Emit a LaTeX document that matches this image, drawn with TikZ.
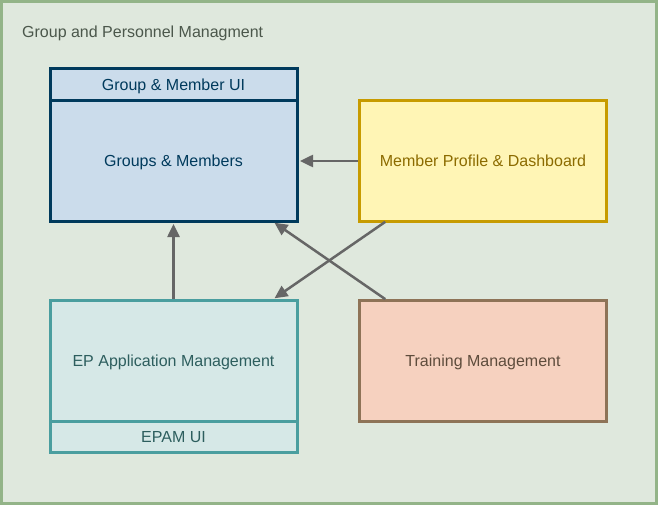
\documentclass[tikz,border=0pt]{standalone}
\usepackage{fontspec}
\setmainfont{Liberation Sans}
\usetikzlibrary{arrows.meta,positioning}
\definecolor{FrameGreen}{HTML}{93B488}
\definecolor{FrameFill}{HTML}{DFE8DD}
\definecolor{TitleGray}{HTML}{4B574B}
\definecolor{GrpBlue}{HTML}{003A5C}
\definecolor{GrpFill}{HTML}{CBDCEB}
\definecolor{MpdGold}{HTML}{C79B00}
\definecolor{MpdFill}{HTML}{FFF5B5}
\definecolor{MpdText}{HTML}{8C6B00}
\definecolor{EpTeal}{HTML}{4A9E9F}
\definecolor{EpFill}{HTML}{D6E8E7}
\definecolor{EpText}{HTML}{2D5E5E}
\definecolor{TrBrown}{HTML}{8E7357}
\definecolor{TrFill}{HTML}{F6D1BF}
\definecolor{TrText}{HTML}{5E4C3C}
\definecolor{ArrowGray}{HTML}{666666}

\tikzset{
	modbox/.style={draw, line width=3pt, rectangle, minimum width=247pt, inner sep=0pt, outer sep=0pt, text height=11.5pt, text depth=0pt, font=\fontsize{16}{19}\selectfont},
	link/.style={draw=ArrowGray, line width=2.5pt, -{Triangle[length=13pt,width=12pt]}}
}

\begin{document}
\begin{tikzpicture}[x=1pt, y=-1pt]
	\useasboundingbox (0,0) rectangle (658,505);
	% outer frame
	\draw[FrameGreen, fill=FrameFill, line width=3pt] (1.5,1.5) rectangle (656.5,503.5);
	\node[anchor=base west, inner sep=0pt, text=TitleGray, font=\fontsize{16}{19}\selectfont] (title) at (22,37.5) {Group and Personnel Managment};
	
	% groups & members with UI header
	\node[modbox, draw=GrpBlue, fill=GrpFill, text=GrpBlue, minimum height=120pt] (grp) at (173.5,161) {Groups \& Members};
	\node[modbox, draw=GrpBlue, fill=GrpFill, text=GrpBlue, minimum height=32pt, above=0pt of grp] (grpui) {Group \& Member UI};
	
	% profile & dashboard
	\node[modbox, draw=MpdGold, fill=MpdFill, text=MpdText, minimum height=120pt] (mpd) at (483,161) {Member Profile \& Dashboard};
	
	% EP application with UI footer
	\node[modbox, draw=EpTeal, fill=EpFill, text=EpText, minimum height=121pt] (epam) at (173.5,360.5) {EP Application Management};
	\node[modbox, draw=EpTeal, fill=EpFill, text=EpText, minimum height=31pt, below=0pt of epam] (epamui) {EPAM UI};
	
	% training
	\node[modbox, draw=TrBrown, fill=TrFill, text=TrText, minimum height=121pt] (train) at (483,360.5) {Training Management};
	
	% dependencies
	\draw[link, shorten <=1.5pt, shorten >=3pt] (mpd.west) -- (grp.east);
	\draw[link, shorten <=1.5pt, shorten >=3pt] (epam.north) -- (grp.south);
	\draw[link, shorten <=1.5pt, shorten >=3pt] ([xshift=27pt]mpd.south west) -- ([xshift=-25pt]epam.north east);
	\draw[link, shorten <=1.5pt, shorten >=3pt] ([xshift=27pt]train.north west) -- ([xshift=-25pt]grp.south east);
\end{tikzpicture}
\end{document}
